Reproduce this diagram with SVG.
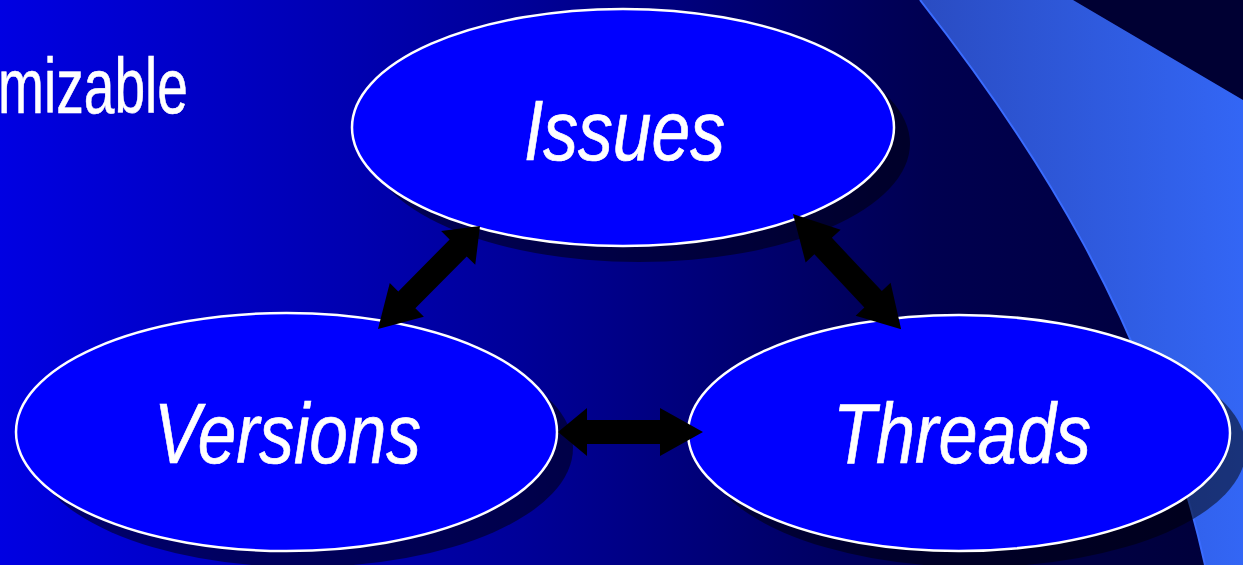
<svg xmlns="http://www.w3.org/2000/svg" width="1243" height="565" viewBox="0 0 1243 565">
<defs>
<linearGradient id="bg" x1="0" y1="0" x2="1243" y2="0" gradientUnits="userSpaceOnUse">
<stop offset="0" stop-color="#0000e2"/>
<stop offset="0.42" stop-color="#000098"/>
<stop offset="0.75" stop-color="#000050"/>
<stop offset="1" stop-color="#000038"/>
</linearGradient>
<linearGradient id="band" x1="920" y1="0" x2="1243" y2="0" gradientUnits="userSpaceOnUse">
<stop offset="0" stop-color="#2a4cc2"/>
<stop offset="1" stop-color="#3366f5"/>
</linearGradient>
<style>
.node ellipse.face{fill:#0000ff;stroke:#ffffff;stroke-width:2.5}
.node ellipse.shadow{fill:#000000;fill-opacity:0.5}
.lbl{font-family:"Liberation Sans",Arial,sans-serif;font-style:italic;font-size:86px;fill:#ffffff;stroke:#ffffff;stroke-width:0.7}
.arrow{fill:#000000}
</style>
</defs>
<rect width="1243" height="565" fill="url(#bg)"/>
<path d="M1073,0 L1243,100 L1243,0 Z" fill="#000033"/>
<path d="M920,0 L1073,0 L1243,100 L1243,565 L1205,565 C1150,320 1030,140 920,0 Z" fill="url(#band)"/>
<path d="M920,0 C1030,140 1150,320 1205,565" fill="none" stroke="#3a6cff" stroke-width="2"/>
<text x="-2" y="113" font-family="Liberation Sans, Arial, sans-serif" font-size="77" fill="#ffffff" stroke="#ffffff" stroke-width="0.6" textLength="190" lengthAdjust="spacingAndGlyphs">mizable</text>
<g id="issues" class="node">
<ellipse class="shadow" cx="639" cy="143.5" rx="271" ry="118.5"/>
<ellipse class="face" cx="623" cy="127.5" rx="271" ry="118.5"/>
<text class="lbl" x="524" y="160" textLength="201" lengthAdjust="spacingAndGlyphs">Issues</text>
</g>
<g id="versions" class="node">
<ellipse class="shadow" cx="302.5" cy="448" rx="270.5" ry="119"/>
<ellipse class="face" cx="286.5" cy="432" rx="270.5" ry="119"/>
<text class="lbl" x="154" y="463" textLength="267" lengthAdjust="spacingAndGlyphs">Versions</text>
</g>
<g id="threads" class="node">
<ellipse class="shadow" cx="975" cy="449" rx="271" ry="118"/>
<ellipse class="face" cx="959" cy="433" rx="271" ry="118"/>
<text class="lbl" x="833" y="463" textLength="258" lengthAdjust="spacingAndGlyphs">Threads</text>
</g>
<g id="connectors">
<polygon class="arrow" transform="translate(378,329) rotate(-45.3)" points="0,0 41,-24 41,-12 114,-12 114,-24 145,0 114,24 114,12 41,12 41,24"/>
<polygon class="arrow" transform="translate(793,214) rotate(46.8)" points="0,0 44,-24 44,-12 117,-12 117,-24 158,0 117,24 117,12 44,12 44,24"/>
<polygon class="arrow" transform="translate(558,432)" points="0,0 29,-24 29,-12 102,-12 102,-24 145,0 102,24 102,12 29,12 29,24"/>
</g>
</svg>
